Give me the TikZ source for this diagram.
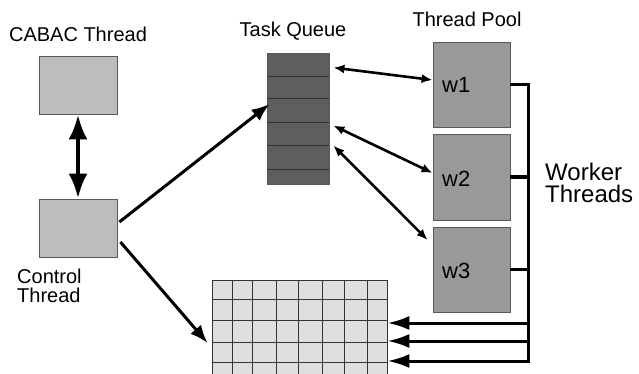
\documentclass[tikz,border=0pt]{standalone}
\usepackage{fontspec}
\setmainfont{Liberation Sans}
\usetikzlibrary{arrows.meta}
\definecolor{boxlight}{gray}{0.74}
\definecolor{boxworker}{gray}{0.6}
\definecolor{boxqueue}{gray}{0.37}
\definecolor{gridfill}{gray}{0.87}
\definecolor{edgegray}{gray}{0.35}
\begin{document}
\begin{tikzpicture}[x=1pt,y=-1pt,
  lbl/.style={inner sep=0pt,font=\fontsize{20}{18.5}\selectfont},
  wlbl/.style={inner sep=0pt,anchor=base west,font=\fontsize{22}{22}\selectfont},
  thread/.style={draw=edgegray,line width=0.8pt,fill=boxlight,minimum width=78pt,minimum height=58pt,inner sep=0pt},
  worker/.style={draw=edgegray,line width=0.8pt,fill=boxworker,minimum width=77pt,minimum height=85pt,inner sep=0pt},
  thin/.style={line width=2.6pt,{Latex[length=11pt,width=9pt]}-{Latex[length=11pt,width=9pt]}},
  ctrl/.style={line width=3pt,-{Latex[length=18pt,width=14pt]}},
  bus/.style={line width=3pt},
  busarrow/.style={line width=3pt,-{Latex[length=22pt,width=14pt]}}]
\clip (0,0) rectangle (639,374);
\fill[white] (0,0) rectangle (639,374);

% left column
\node[thread] (cabac) at (78,85) {};
\node[thread] (ctrl) at (78,228) {};
\node[lbl,anchor=base] (cabact) at (78,42) {CABAC Thread};
\node[lbl,anchor=north west,align=left] (ctrlt) at (17,269) {Control\\Thread};
\draw[line width=4.5pt,{Latex[length=25pt,width=19pt]}-{Latex[length=25pt,width=19pt]}] (cabac.south) -- (ctrl.north);

% task queue
\node[draw=edgegray,line width=0.8pt,fill=boxqueue,minimum width=62pt,minimum height=131pt,inner sep=0pt] (q) at (298,118.5) {};
\foreach \yy in {77,99,123,146,170}
  \draw[line width=1pt,black!80] (q.west |- 0,\yy) -- (q.east |- 0,\yy);
\node[lbl,anchor=base] (qt) at (293,37) {Task Queue};

% thread pool
\node[lbl,anchor=base] (pt) at (467,27) {Thread Pool};
\node[worker] (w1) at (471.5,84.5) {};
\node[worker,minimum height=86pt] (w2) at (471.5,177) {};
\node[worker] (w3) at (471.5,269.5) {};
\node[wlbl] (w1t) at (442,93) {w1};
\node[wlbl] (w2t) at (442,186) {w2};
\node[wlbl] (w3t) at (442,278) {w3};
\node[inner sep=0pt,anchor=north west,align=left,font=\fontsize{24}{22}\selectfont] (wt) at (545,163) {Worker\\Threads};

% grid
\node[draw=black!80,line width=0.8pt,fill=gridfill,minimum width=175pt,minimum height=104pt,inner sep=0pt] (g) at (299.5,332) {};
\foreach \xx in {232,252,276,298,322,344,367}
  \draw[line width=0.8pt,black!80] (\xx,280) -- (\xx,384);
\foreach \yy in {299,320,342,362}
  \draw[line width=0.8pt,black!80] (212,\yy) -- (387,\yy);

% queue <-> workers
\draw[thin] ([xshift=4pt,yshift=-15pt]q.north east) -- ([yshift=4.5pt]w1.west);
\draw[thin] ([xshift=4pt,yshift=-73pt]q.north east) -- ([yshift=4pt]w2.west);
\draw[thin] ([xshift=4pt,yshift=-93pt]q.north east) -- ([xshift=-5pt,yshift=29.5pt]w3.west);

% control arrows
\draw[ctrl] ([xshift=2pt,yshift=6pt]ctrl.east) -- ([xshift=3pt,yshift=14.5pt]q.west);
\draw[ctrl] ([xshift=3pt,yshift=-14pt]ctrl.east) -- ([xshift=-4pt,yshift=-11pt]g.west);

% bus
\coordinate (bt) at (528,84.5);
\coordinate (a1) at (528,323);
\coordinate (a2) at (528,341);
\coordinate (a3) at (528,361);
\draw[bus] (w1.east) -- (bt) -- ([yshift=-1.5pt]a3);
\draw[bus] (w2.east) -- (w2.east -| bt);
\draw[bus] (w3.east) -- (w3.east -| bt);
\draw[busarrow] ([xshift=1.5pt]a1) -- (g.east |- a1);
\draw[busarrow] ([xshift=1.5pt]a2) -- (g.east |- a2);
\draw[busarrow] ([xshift=1.5pt]a3) -- (g.east |- a3);
\end{tikzpicture}
\end{document}
